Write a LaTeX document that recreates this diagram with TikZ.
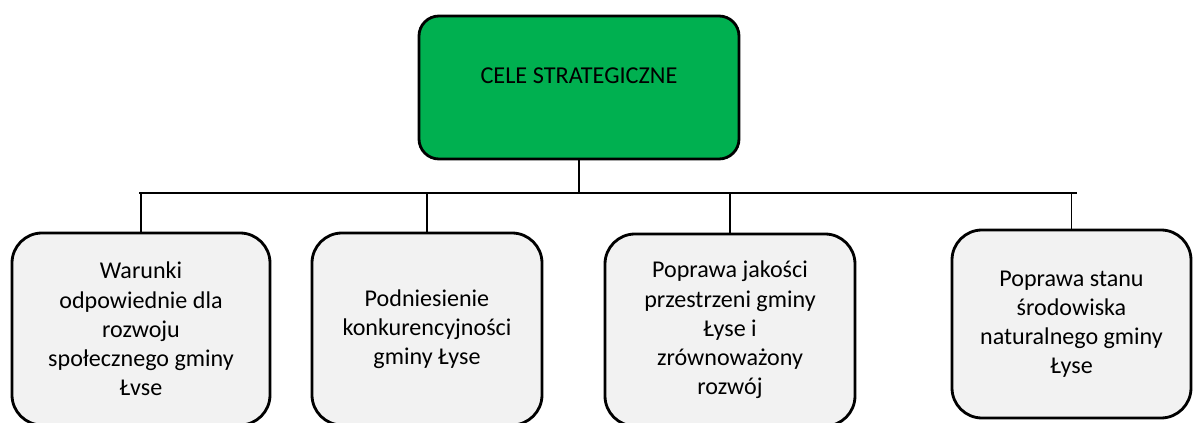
\documentclass[tikz,border=0pt]{standalone}
\usepackage{fontspec}
\setmainfont{Carlito}
\usetikzlibrary{positioning}
\definecolor{celeGreen}{HTML}{00B050}
\definecolor{celeGray}{HTML}{F2F2F2}

\begin{document}
\begin{tikzpicture}[
  mainbox/.style={draw=black, fill=celeGreen, rounded corners=0.4cm, line width=1.6pt,
              minimum width=6.4cm, minimum height=2.86cm, align=center,
              font=\fontsize{13.8}{16.6}\selectfont,
              text height=0.34cm, text depth=0.5cm},
  goalbox/.style={draw=black, fill=celeGray, rounded corners=0.6cm, line width=1.6pt,
              minimum height=3.84cm, align=center,
              font=\fontsize{13.7}{16.6}\selectfont},
  link/.style={draw=black, line width=1.1pt},
]
\useasboundingbox (0,0) rectangle (23.86,-8.46);

% --- main node ---
\node[mainbox] (cele) at (11.58,-1.75) {CELE STRATEGICZNE};

% --- goals ---
\node[goalbox, minimum width=5.16cm] (war) at (2.82,-6.58)
  {Warunki\\odpowiednie dla\\rozwoju\\społecznego gminy\\Łvse};
\node[goalbox, minimum width=4.6cm] (kon) at (8.54,-6.58)
  {Podniesienie\\konkurencyjności\\gminy Łyse};
\node[goalbox, minimum width=5.0cm] (prz) at (14.6,-6.6)
  {Poprawa jakości\\przestrzeni gminy\\Łyse i\\zrównoważony\\rozwój};
\node[goalbox, minimum width=4.78cm, minimum height=3.76cm] (sro) at (21.43,-6.48)
  {Poprawa stanu\\środowiska\\naturalnego gminy\\Łyse};

% --- bus ---
\coordinate (busL) at (2.78,-3.86);
\coordinate (busR) at (21.53,-3.86);
\draw[link] (busL) -- (busR);
\draw[link] (cele.south) -- (cele.south |- busL);
\foreach \g in {war,kon,prz,sro}
  \draw[link] (\g.north) -- (\g.north |- busL);
\end{tikzpicture}
\end{document}
